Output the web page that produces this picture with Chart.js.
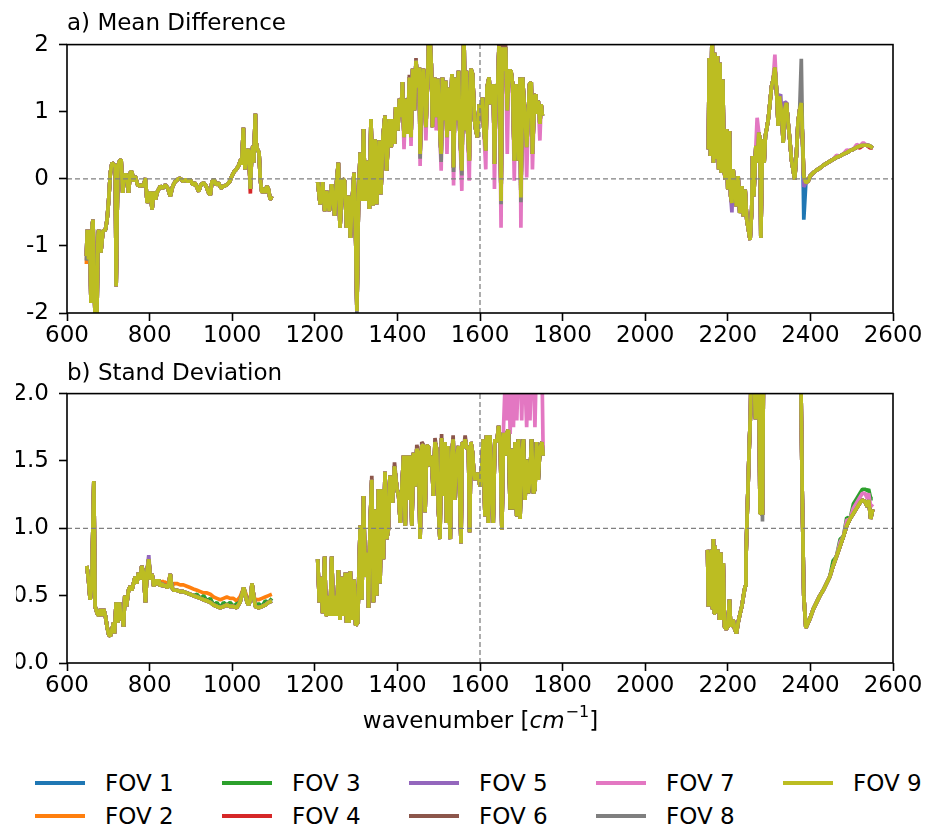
<!DOCTYPE html>
<html lang="en">
<head>
<meta charset="UTF-8">
<title>FOV mean difference and standard deviation</title>
<script src="https://cdn.jsdelivr.net/npm/chart.js"></script>
<style>
    body { margin: 0; background: #fff; width: 926px; height: 828px; position: relative; overflow: hidden; font-family: 'DejaVu Sans', sans-serif; }
    #meanChart { position: absolute; left: 0; top: 0; }
    #sdChart { position: absolute; left: 16px; top: 350px; }
    #legend { position: absolute; left: 35px; top: 766px; display: grid; grid-template-columns: repeat(5, 187px); grid-template-rows: 33px 33px; grid-auto-flow: column; }
    .item { display: flex; align-items: center; font-size: 23px; color: #000; white-space: nowrap; }
    .swatch { width: 50px; height: 4px; margin-right: 20px; }
</style>
</head>
<body>
<canvas id="meanChart" width="926" height="350"></canvas>
<canvas id="sdChart" width="910" height="400"></canvas>
<div id="legend"></div>
<script>
    // [wavenumber, value] (drawn on top)
    const meanBand1 = [[647,-1.15],[649,-0.76],[652,-1.2],[655,-0.76],[658,-1.85],[661,-0.7],[663,-0.61],[666,-1.6],[669,-2.3],[672,-2.3],
        [675,-0.85],[677,-0.76],[682,-1.1],[687,-0.78],[693,-0.76],[697,-0.61],[701,-0.31],[705,0.09],[709,0.24],[713,0.21],
        [717,0.19],[719,-1.6],[723,0.19],[727,0.26],[731,0.29],[735,-0.21],[739,0.06],[745,0.06],[749,-0.21],[753,0.09],
        [757,0.11],[761,-0.04],[765,0.04],[771,-0.09],[777,-0.11],[781,-0.09],[785,-0.11],[790,0.01],[794,-0.36],[798,-0.26],
        [802,-0.19],[806,-0.46],[810,-0.19],[814,-0.31],[819,-0.19],[826,-0.11],[832,-0.14],[838,-0.09],[844,-0.14],[850,-0.26],
        [856,-0.11],[862,-0.04],[868,-0.01],[874,0.01],[881,-0.04],[886,-0.01],[892,-0.04],[898,-0.01],[905,-0.09],[910,-0.06],
        [919,-0.19],[924,-0.09],[931,-0.06],[937,-0.11],[943,-0.21],[947,-0.24],[951,-0.04],[956,-0.01],[961,-0.09],[967,-0.06],
        [973,-0.14],[979,-0.11],[987,-0.09],[994,-0.04],[999,0.04],[1005,0.11],[1010,0.14],[1015,0.19],[1018,0.24],[1021,0.29],
        [1023,0.21],[1027,0.76],[1031,0.14],[1034,0.34],[1037,0.44],[1040,0.41],[1044,-0.15],[1047,0.34],[1050,0.49],[1052,0.24],
        [1056,0.97],[1058,0.54],[1061,0.44],[1065,0.39],[1068,-0.01],[1072,-0.21],[1076,-0.14],[1080,-0.21],[1084,-0.11],[1088,-0.16],
        [1092,-0.31],[1096,-0.26]];
    const meanBand2 = [[1207,-0.05],[1213,-0.38],[1219,-0.05],[1224,-0.48],[1229,-0.18],[1235,-0.48],[1241,-0.08],[1248,-0.55],[1253,-0.03],[1257,0.24],
        [1261,-0.73],[1267,0.0],[1272,-0.03],[1277,-0.73],[1282,-0.25],[1286,-0.88],[1290,-0.38],[1295,0.09],[1299,-0.88],[1302,-1.97],
        [1306,-0.23],[1310,0.39],[1314,-0.33],[1318,0.74],[1322,-0.33],[1327,0.27],[1332,-0.45],[1336,0.89],[1341,-0.4],[1346,0.59],
        [1350,-0.38],[1356,0.57],[1360,-0.23],[1365,0.62],[1370,0.94],[1374,0.12],[1380,0.89],[1385,0.47],[1389,0.89],[1393,0.52],
        [1396,1.07],[1401,0.72],[1405,1.19],[1409,0.92],[1412,1.44],[1416,0.62],[1420,1.19],[1425,0.67],[1429,1.51],[1433,0.62],
        [1437,1.64],[1441,1.02],[1445,1.76],[1449,1.36],[1453,1.66],[1455,0.37],[1459,1.41],[1463,1.64],[1469,0.77],[1473,1.46],
        [1477,2.3],[1482,1.71],[1485,0.77],[1490,1.51],[1494,0.92],[1498,1.49],[1503,0.67],[1506,0.37],[1509,1.51],[1514,0.87],
        [1517,1.46],[1520,0.62],[1524,1.36],[1528,0.72],[1532,1.56],[1536,0.17],[1540,1.51],[1544,0.87],[1548,1.61],[1551,0.72],
        [1556,0.12],[1561,2.3],[1564,0.72],[1567,1.61],[1570,0.72],[1574,0.27],[1578,1.64],[1582,1.56],[1587,0.87],[1590,0.72],
        [1594,0.62],[1598,1.11],[1603,1.06],[1606,1.21],[1609,0.77],[1614,0.42],[1617,1.36],[1622,1.51],[1625,1.11],[1632,1.41],
        [1635,0.22],[1639,1.39],[1643,1.39],[1646,1.98],[1651,-0.33],[1654,1.96],[1658,1.61],[1662,1.96],[1666,1.02],[1670,1.61],
        [1675,1.61],[1679,1.41],[1683,0.27],[1687,1.41],[1690,0.97],[1693,0.27],[1697,1.51],[1699,-0.28],[1703,1.51],[1706,1.21],
        [1709,0.92],[1713,0.47],[1717,0.97],[1720,1.41],[1724,1.44],[1727,0.37],[1732,1.21],[1735,1.26],[1738,0.97],[1741,1.16],
        [1745,0.82],[1748,1.11],[1751,0.94]];
    const meanBand3 = [[2153,0.44],[2155,1.8],[2158,0.34],[2162,2.3],[2165,0.24],[2168,1.88],[2171,0.29],[2175,1.83],[2178,0.14],[2181,1.73],
        [2184,0.09],[2188,1.48],[2191,0.14],[2194,-0.01],[2197,0.74],[2200,-0.16],[2204,0.71],[2207,-0.26],[2210,-0.36],[2213,0.14],
        [2217,-0.16],[2221,-0.41],[2225,0.04],[2229,-0.51],[2234,-0.11],[2238,-0.56],[2242,-0.16],[2246,-0.61],[2250,-0.76],[2254,-0.91],
        [2258,-0.46],[2260,0.34],[2263,-0.26],[2268,0.49],[2271,0.24],[2275,0.69],[2278,0.59],[2280,-0.88],[2284,0.59],[2288,0.24],
        [2291,0.64],[2294,0.74],[2298,0.89],[2302,1.13],[2306,1.38],[2310,1.48],[2314,1.66],[2318,1.33],[2322,0.79],[2325,1.23],
        [2328,1.08],[2331,0.93],[2334,0.54],[2338,1.03],[2342,1.13],[2346,0.84],[2350,0.59],[2354,0.29],[2358,0.14],[2362,-0.01],
        [2366,0.34],[2370,0.84],[2374,1.03],[2378,1.13],[2381,0.59],[2384,0.04],[2389,-0.06],[2395,-0.03],[2399,0.04],[2407,0.09],
        [2415,0.13],[2423,0.16],[2431,0.2],[2439,0.23],[2447,0.26],[2455,0.29],[2463,0.32],[2472,0.34],[2480,0.37],[2488,0.39],
        [2496,0.42],[2504,0.44],[2512,0.47],[2520,0.49],[2528,0.5],[2536,0.5],[2544,0.49],[2551,0.46]];

    const sdBand1 = [[648,0.72],[652,0.62],[656,0.47],[660,0.59],[665,1.35],[668,0.42],[673,0.37],[677,0.35],[681,0.4],[685,0.35],
        [689,0.4],[693,0.35],[697,0.27],[701,0.21],[705,0.2],[709,0.25],[713,0.3],[715,0.22],[719,0.45],[723,0.3],
        [727,0.45],[731,0.32],[734,0.35],[737,0.27],[740,0.5],[744,0.42],[749,0.54],[753,0.57],[757,0.54],[761,0.59],
        [765,0.64],[769,0.59],[773,0.67],[777,0.62],[781,0.72],[785,0.67],[790,0.45],[794,0.69],[798,0.77],[802,0.62],
        [806,0.66],[810,0.57],[814,0.62],[818,0.58],[822,0.62],[826,0.57],[830,0.59],[834,0.57],[838,0.58],[842,0.56],
        [846,0.57],[850,0.66],[854,0.56],[858,0.54],[866,0.54],[874,0.53],[882,0.53],[890,0.52],[898,0.51],[906,0.5],
        [915,0.49],[923,0.48],[931,0.47],[939,0.46],[947,0.45],[955,0.43],[963,0.42],[971,0.41],[979,0.42],[987,0.43],
        [995,0.42],[1003,0.42],[1011,0.41],[1019,0.45],[1028,0.56],[1036,0.45],[1040,0.43],[1044,0.47],[1048,0.59],[1052,0.5],
        [1056,0.42],[1064,0.41],[1072,0.42],[1080,0.43],[1088,0.45],[1096,0.46]];
    const sdBand2 = [[1207,0.77],[1211,0.45],[1215,0.64],[1219,0.37],[1224,0.79],[1227,0.35],[1232,0.4],[1235,0.5],[1237,0.35],[1241,0.79],
        [1245,0.35],[1249,0.5],[1253,0.35],[1257,0.69],[1261,0.32],[1265,0.64],[1270,0.35],[1274,0.67],[1277,0.3],[1280,0.67],
        [1283,0.3],[1286,0.68],[1291,0.32],[1295,0.62],[1299,0.28],[1304,0.3],[1307,0.69],[1310,1.02],[1314,0.47],[1318,1.24],
        [1322,0.64],[1327,0.82],[1330,0.41],[1334,1.04],[1338,1.36],[1342,0.45],[1346,1.14],[1350,0.5],[1354,1.29],[1358,0.59],
        [1362,1.29],[1366,0.77],[1370,1.42],[1374,0.92],[1378,0.99],[1382,1.39],[1388,1.19],[1393,1.46],[1399,1.29],[1403,1.24],
        [1407,1.04],[1411,1.31],[1415,1.54],[1419,1.02],[1423,1.54],[1427,1.21],[1431,1.54],[1435,1.02],[1439,1.56],[1443,1.31],
        [1447,1.59],[1451,1.56],[1455,0.92],[1459,1.61],[1463,1.62],[1467,1.12],[1471,1.61],[1475,1.61],[1479,1.46],[1483,1.54],
        [1487,1.24],[1491,1.64],[1495,1.59],[1499,1.16],[1503,0.92],[1507,1.67],[1511,1.24],[1515,1.64],[1519,1.04],[1522,1.61],
        [1525,1.21],[1528,0.92],[1532,1.56],[1535,1.66],[1538,1.21],[1541,1.39],[1545,1.56],[1548,1.61],[1551,1.24],[1554,0.89],
        [1557,1.64],[1561,1.6],[1564,1.66],[1568,1.59],[1572,1.61],[1575,0.97],[1578,1.64],[1582,1.56],[1585,1.41],[1588,1.36],
        [1592,1.41],[1596,1.39],[1600,1.31],[1604,1.44],[1608,1.66],[1612,1.09],[1616,1.69],[1620,1.04],[1624,1.69],[1628,1.31],
        [1632,1.04],[1636,1.66],[1641,1.64],[1645,1.76],[1649,1.64],[1653,0.99],[1657,1.71],[1661,1.54],[1665,1.71],[1669,1.73],
        [1673,1.14],[1677,1.59],[1681,1.14],[1685,1.64],[1689,1.09],[1693,1.66],[1697,1.07],[1701,1.54],[1705,1.66],[1709,1.21],
        [1713,1.51],[1717,1.26],[1721,1.39],[1725,1.66],[1729,1.26],[1733,1.29],[1737,1.64],[1741,1.36],[1745,1.59],[1750,1.64],
        [1753,1.54]];
    const sdBand3 = [[2151,0.84],[2153,0.42],[2155,0.82],[2158,0.42],[2161,0.84],[2163,0.4],[2165,0.92],[2167,0.37],[2169,0.87],[2173,0.37],
        [2176,0.84],[2180,0.32],[2183,0.82],[2186,0.32],[2189,0.74],[2192,0.27],[2196,0.25],[2200,0.27],[2204,0.47],[2207,0.27],
        [2210,0.3],[2213,0.32],[2217,0.25],[2221,0.22],[2225,0.3],[2230,0.37],[2234,0.42],[2238,0.5],[2242,0.57],[2244,0.77],
        [2247,1.11],[2250,1.41],[2252,1.61],[2255,1.86],[2257,2.3],[2260,2.3],[2263,2.2],[2267,1.81],[2270,2.3],[2273,2.3],
        [2276,1.86],[2278,1.11],[2280,2.3],[2284,1.1],[2287,2.5],[2320,3.0],[2360,3.0],[2376,2.4],[2380,1.3],[2384,0.5],
        [2389,0.26],[2399,0.33],[2407,0.4],[2415,0.45],[2423,0.5],[2431,0.54],[2439,0.59],[2447,0.64],[2455,0.72],[2463,0.79],
        [2472,0.87],[2480,0.94],[2488,1.02],[2496,1.07],[2504,1.11],[2512,1.15],[2520,1.19],[2526,1.21],[2532,1.2],[2538,1.16],
        [2541,1.21],[2546,1.07],[2551,1.14]];

    // where another FOV shows from under FOV 9: {wavenumber: value}
    const meanFov1Fix = { 2384: -0.61 };
    const meanFov2Fix = { 647: -1.27 };
    const meanFov4Fix = { 1044: -0.22, 2520: 0.46, 2544: 0.46 };
    const meanFov5Fix = { 2210: -0.5, 2217: -0.3, 2328: 1.26, 2338: 1.15, 2384: -0.12 };
    const meanFov6Fix = { 1429: 1.55, 1445: 1.8, 1646: 2.05, 1654: 2.05, 1662: 2.0 };
    const meanFov7Fix = { 1416: 0.44, 1433: 0.49, 1455: 0.19, 1469: 0.57, 1494: 0.72, 1506: 0.12, 1520: 0.37, 1536: -0.1,
        1556: -0.18, 1574: -0.03, 1614: 0.14, 1635: -0.15, 1651: -0.73, 1666: 0.37, 1683: -0.03, 1693: 0.32, 1699: -0.73,
        1713: 0.02, 1727: 0.14, 1745: 0.57, 2271: 0.91, 2314: 1.85, 2463: 0.35, 2488: 0.43, 2512: 0.51, 2528: 0.54 };
    const meanFov8Fix = { 647: -1.22, 1302: -2.05, 1455: 0.3, 1506: 0.25, 1536: 0.1, 1556: 0.05, 1651: -0.38, 1699: -0.35, 2378: 1.79 };

    const sdFov2Fix = { 830: 0.61, 834: 0.6, 838: 0.6, 842: 0.59, 846: 0.6, 858: 0.59, 866: 0.59, 874: 0.58, 882: 0.58, 890: 0.57,
        898: 0.56, 906: 0.55, 915: 0.54, 923: 0.53, 931: 0.52, 939: 0.52, 947: 0.51, 955: 0.49, 963: 0.48, 971: 0.47, 979: 0.48,
        987: 0.49, 995: 0.48, 1003: 0.48, 1011: 0.46, 1019: 0.49, 1036: 0.49, 1040: 0.48, 1056: 0.47, 1064: 0.47, 1072: 0.48,
        1080: 0.49, 1088: 0.5, 1096: 0.51 };
    const sdFov3Fix = { 915: 0.51, 931: 0.5, 947: 0.48, 963: 0.45, 979: 0.45, 995: 0.45, 1011: 0.44, 1064: 0.44, 1080: 0.46, 1096: 0.48,
        2455: 0.76, 2472: 0.92, 2488: 1.08, 2504: 1.18, 2512: 1.22, 2520: 1.26, 2526: 1.29, 2532: 1.29, 2538: 1.28, 2541: 1.29,
        2546: 1.22, 2551: 1.22 };
    const sdFov5Fix = { 798: 0.8 };
    const sdFov6Fix = { 1338: 1.39, 1393: 1.49, 1447: 1.62, 1459: 1.64, 1491: 1.67, 1507: 1.7, 1535: 1.69, 1564: 1.69 };
    const sdFov7Fix = { 1657: 1.75, 1661: 2.1, 1665: 1.8, 1669: 2.3, 1673: 1.7, 1677: 2.3, 1681: 1.75, 1685: 2.3, 1689: 1.8,
        1693: 2.2, 1697: 2.3, 1701: 1.8, 1705: 2.3, 1709: 2.1, 1713: 1.75, 1717: 2.3, 1721: 1.8, 1725: 2.3, 1729: 2.2, 1733: 1.75,
        1737: 2.3, 1741: 2.2, 1745: 2.3, 1750: 2.2,
        2472: 0.9, 2488: 1.06, 2504: 1.15, 2512: 1.19, 2520: 1.23, 2526: 1.26, 2532: 1.26, 2538: 1.22, 2541: 1.26, 2546: 1.16, 2551: 1.18 };
    const sdFov8Fix = { 2284: 1.05 };

    const meanFixes = [meanFov1Fix, meanFov2Fix, {}, meanFov4Fix, meanFov5Fix, meanFov6Fix, meanFov7Fix, meanFov8Fix, {}];
    const sdFixes = [{}, sdFov2Fix, sdFov3Fix, {}, sdFov5Fix, sdFov6Fix, sdFov7Fix, sdFov8Fix, {}];

    const fovLabels = ['FOV 1', 'FOV 2', 'FOV 3', 'FOV 4', 'FOV 5', 'FOV 6', 'FOV 7', 'FOV 8', 'FOV 9'];
    const fovColors = ['#1f77b4', '#ff7f0e', '#2ca02c', '#d62728', '#9467bd', '#8c564b', '#e377c2', '#7f7f7f', '#bcbd22'];
    const wnTicks = [600, 800, 1000, 1200, 1400, 1600, 1800, 2000, 2200, 2400, 2600];
    const meanTicks = [-2, -1, 0, 1, 2];
    const sdTicks = [0, 0.5, 1.0, 1.5, 2.0];
    const refWn = 1600;
    const meanRef = 0;
    const sdRef = 1.0;

    Chart.defaults.font.family = "'DejaVu Sans'";
    Chart.defaults.font.size = 23;
    Chart.defaults.color = '#000';
    Chart.defaults.animation = false;

    function series(bands, fix) {
        const pts = [];
        bands.forEach((band, i) => {
            if (i > 0) pts.push({ x: band[0][0] - 1, y: null });
            band.forEach(([x, y]) => pts.push({ x: x, y: (x in fix) ? fix[x] : y }));
        });
        return pts;
    }

    function fovDatasets(bands, fixes) {
        return fovLabels.map((label, i) => ({
            label: label,
            data: series(bands, fixes[i]),
            borderColor: fovColors[i],
            backgroundColor: fovColors[i],
            borderWidth: 3.7,
            borderJoinStyle: 'bevel',
            pointRadius: 0,
            tension: 0,
            clip: 0,
            order: fovLabels.length - i + 1
        }));
    }

    function refLines(yRef, yTicks) {
        const style = { borderColor: '#808080', borderWidth: 1.3, borderDash: [5, 3], pointRadius: 0, clip: 0, order: 0 };
        const x0 = wnTicks[0], x1 = wnTicks[wnTicks.length - 1];
        const y0 = yTicks[0], y1 = yTicks[yTicks.length - 1];
        return [
            Object.assign({ label: 'ref-h', data: [{ x: x0, y: yRef }, { x: x1, y: yRef }] }, style),
            Object.assign({ label: 'ref-v', data: [{ x: refWn, y: y0 }, { x: refWn, y: y1 }] }, style)
        ];
    }

    const frame = {
        id: 'frame',
        afterDatasetsDraw(chart) {
            const { ctx, chartArea: a } = chart;
            ctx.save();
            ctx.strokeStyle = '#000';
            ctx.lineWidth = 1.6;
            ctx.strokeRect(a.left, a.top, a.right - a.left, a.bottom - a.top);
            ctx.restore();
        }
    };

    const waveTitle = {
        id: 'waveTitle',
        afterDraw(chart) {
            const { ctx, chartArea: a } = chart;
            const parts = [
                { t: 'wavenumber [', f: "23px 'DejaVu Sans'", dy: 0 },
                { t: 'cm', f: "italic 23px 'DejaVu Sans'", dy: 0 },
                { t: '\u22121', f: "16px 'DejaVu Sans'", dy: -9 },
                { t: ']', f: "23px 'DejaVu Sans'", dy: 0 }
            ];
            ctx.save();
            let total = 0;
            parts.forEach(p => { ctx.font = p.f; p.w = ctx.measureText(p.t).width; total += p.w; });
            let x = (a.left + a.right) / 2 - total / 2;
            const y = 372;
            ctx.fillStyle = '#000';
            ctx.textBaseline = 'middle';
            parts.forEach(p => { ctx.font = p.f; ctx.fillText(p.t, x, y + p.dy); x += p.w + (p.t === 'cm' ? 1 : 0); });
            ctx.restore();
        }
    };

    function axes(yTicks, yWidth, fmt) {
        const grid = { display: true, drawOnChartArea: false, drawTicks: true, tickLength: 8, tickWidth: 1.6, tickColor: '#000' };
        return {
            x: {
                type: 'linear', min: wnTicks[0], max: wnTicks[wnTicks.length - 1],
                afterBuildTicks: s => { s.ticks = wnTicks.map(v => ({ value: v })); },
                ticks: { autoSkip: false, maxRotation: 0, padding: 1, callback: v => String(v) },
                grid: grid, border: { display: false },
                afterFit: s => { s.height = 37; }
            },
            y: {
                type: 'linear', min: yTicks[0], max: yTicks[yTicks.length - 1],
                afterBuildTicks: s => { s.ticks = yTicks.map(v => ({ value: v })); },
                ticks: { padding: 10, callback: fmt },
                grid: grid, border: { display: false },
                afterFit: s => { s.width = yWidth; }
            }
        };
    }

    const meanChart = new Chart(document.getElementById('meanChart'), {
        type: 'line',
        data: { datasets: refLines(meanRef, meanTicks).concat(fovDatasets([meanBand1, meanBand2, meanBand3], meanFixes)) },
        options: {
            responsive: false,
            layout: { padding: { left: 0, right: 33, top: 0, bottom: 0 } },
            scales: axes(meanTicks, 67, v => String(v)),
            plugins: {
                legend: { display: false },
                tooltip: { enabled: false },
                title: { display: true, text: 'a) Mean Difference', align: 'start', fullSize: false, padding: { top: 10, bottom: 7 }, font: { weight: 'normal' } }
            }
        },
        plugins: [frame]
    });

    const sdChart = new Chart(document.getElementById('sdChart'), {
        type: 'line',
        data: { datasets: refLines(sdRef, sdTicks).concat(fovDatasets([sdBand1, sdBand2, sdBand3], sdFixes)) },
        options: {
            responsive: false,
            layout: { padding: { left: 0, right: 33, top: 0, bottom: 50 } },
            scales: axes(sdTicks, 51, v => v.toFixed(1)),
            plugins: {
                legend: { display: false },
                tooltip: { enabled: false },
                title: { display: true, text: 'b) Stand Deviation', align: 'start', fullSize: false, padding: { top: 10, bottom: 6 }, font: { weight: 'normal' } }
            }
        },
        plugins: [frame, waveTitle]
    });

    // legend built from the chart's own datasets, column by column like the figure
    const legendBox = document.getElementById('legend');
    sdChart.data.datasets.filter(d => fovLabels.includes(d.label)).forEach(d => {
        const item = document.createElement('div');
        item.className = 'item';
        const sw = document.createElement('span');
        sw.className = 'swatch';
        sw.style.background = d.borderColor;
        item.appendChild(sw);
        item.appendChild(document.createTextNode(d.label));
        legendBox.appendChild(item);
    });
</script>
</body>
</html>
